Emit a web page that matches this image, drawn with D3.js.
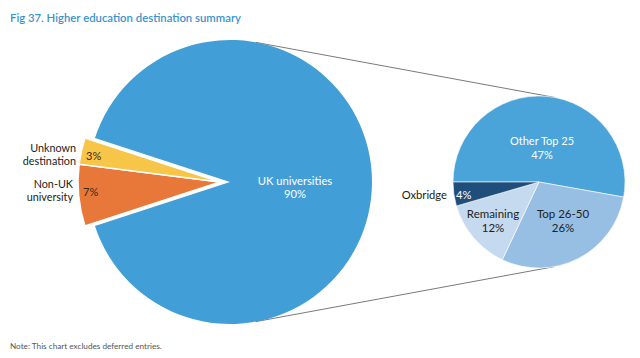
<!DOCTYPE html>
<html>
<head>
<meta charset="utf-8">
<script src="https://cdn.jsdelivr.net/npm/d3@7"></script>
<style>
  body { margin: 0; background: #fff; }
  svg { display: block; }
  text { font-family: Lato, "Open Sans", sans-serif; }
</style>
</head>
<body>
<svg id="chart" width="640" height="358"></svg>
<script>
// main pie: where graduates went
const mainLabels = ["UK universities", "Non-UK university", "Unknown destination"];
const mainValues = [90, 7, 3];
const mainColors = ["#429ed7", "#e8783a", "#f7c548"];

// breakdown of the UK slice
const subLabels = ["Other Top 25", "Top 26-50", "Remaining", "Oxbridge"];
const subValues = [47, 26, 12, 4];
const subColors = ["#4aa4da", "#97bee3", "#c5daef", "#1f4e7a"];

const svg = d3.select("#chart");

svg.append("text")
  .attr("x", 10).attr("y", 22)
  .attr("fill", "#3b93cf")
  .attr("font-size", 12)
  .attr("font-weight", 600)
  .attr("textLength", 231)
  .attr("lengthAdjust", "spacingAndGlyphs")
  .text("Fig 37. Higher education destination summary");

svg.append("text")
  .attr("x", 10).attr("y", 349)
  .attr("fill", "#555")
  .attr("font-size", 8.2)
  .text("Note: This chart excludes deferred entries.");

// geometry
const big = { cx: 230, cy: 182, r: 142 };
const small = { cx: 539, cy: 182, r: 86 };

// connector lines = outer tangents of the two circles
const d = small.cx - big.cx;
const sa = (big.r - small.r) / d, ca = Math.sqrt(1 - sa * sa);
[-1, 1].forEach(s => {
  svg.append("line")
    .attr("x1", big.cx + big.r * sa).attr("y1", big.cy + s * big.r * ca)
    .attr("x2", small.cx + small.r * sa).attr("y2", small.cy + s * small.r * ca)
    .attr("stroke", "#7a7a7a")
    .attr("stroke-width", 1);
});

// big pie, the small slices sit on the left and are pulled out
const mainPie = d3.pie().sort(null)
  .startAngle(-0.4 * Math.PI).endAngle(1.6 * Math.PI);
const mainArc = d3.arc().innerRadius(0).outerRadius(big.r);
const mainArcs = mainPie(mainValues);
const explode = 10;

const gBig = svg.append("g").attr("transform", `translate(${big.cx},${big.cy})`);
gBig.selectAll("path")
  .data(mainArcs)
  .enter()
  .append("path")
  .attr("d", mainArc)
  .attr("fill", (d, i) => mainColors[i])
  .attr("stroke", "#fff")
  .attr("stroke-width", (d, i) => i === 0 ? 0 : 1.5)
  .attr("transform", (d, i) => i === 0 ? null : `translate(${-explode},0)`);

// labels big pie
gBig.append("text")
  .attr("x", 65).attr("y", 3)
  .attr("text-anchor", "middle").attr("fill", "#fff").attr("font-size", 11.2)
  .text(mainLabels[0]);
gBig.append("text")
  .attr("x", 65).attr("y", 16)
  .attr("text-anchor", "middle").attr("fill", "#fff").attr("font-size", 11.2)
  .text(mainValues[0] + "%");

// side labels, one text per line
const sideLabels = [
  { i: 2, lines: ["Unknown", "destination"], x: 76, y: 152, px: 86, py: 160 },
  { i: 1, lines: ["Non-UK", "university"], x: 73, y: 188, px: 83, py: 196 }
];
sideLabels.forEach(l => {
  l.lines.forEach((s, k) => {
    svg.append("text")
      .attr("x", l.x).attr("y", l.y + k * 13)
      .attr("text-anchor", "end").attr("fill", "#222").attr("font-size", 10.8)
      .text(s);
  });
  svg.append("text")
    .attr("x", l.px).attr("y", l.py)
    .attr("fill", "#3a2a10").attr("font-size", 11)
    .text(mainValues[l.i] + "%");
});

// small pie
const subPie = d3.pie().sort(null)
  .startAngle(-0.5 * Math.PI).endAngle(1.5 * Math.PI);
const subArc = d3.arc().innerRadius(0).outerRadius(small.r);
const subArcs = subPie(subValues);

const gSmall = svg.append("g").attr("transform", `translate(${small.cx},${small.cy})`);
gSmall.selectAll("path")
  .data(subArcs)
  .enter()
  .append("path")
  .attr("d", subArc)
  .attr("fill", (d, i) => subColors[i])
  .attr("stroke", "#fff")
  .attr("stroke-width", 0.6);

const subPos = [
  { x: 3, y: -37, fill: "#fff", size: 11 },
  { x: 24, y: 36, fill: "#222", size: 11.5 },
  { x: -46, y: 36, fill: "#222", size: 11.5 }
];
subPos.forEach((p, i) => {
  gSmall.append("text")
    .attr("x", p.x).attr("y", p.y)
    .attr("text-anchor", "middle").attr("fill", p.fill).attr("font-size", p.size)
    .text(subLabels[i]);
  gSmall.append("text")
    .attr("x", p.x).attr("y", p.y + 14)
    .attr("text-anchor", "middle").attr("fill", p.fill).attr("font-size", p.size)
    .text(subValues[i] + "%");
});
// Oxbridge: name outside, value inside
gSmall.append("text")
  .attr("x", -92).attr("y", 17)
  .attr("text-anchor", "end").attr("fill", "#222").attr("font-size", 11.2)
  .text(subLabels[3]);
gSmall.append("text")
  .attr("x", -83).attr("y", 17)
  .attr("fill", "#fff").attr("font-size", 11.2)
  .text(subValues[3] + "%");
</script>
</body>
</html>
